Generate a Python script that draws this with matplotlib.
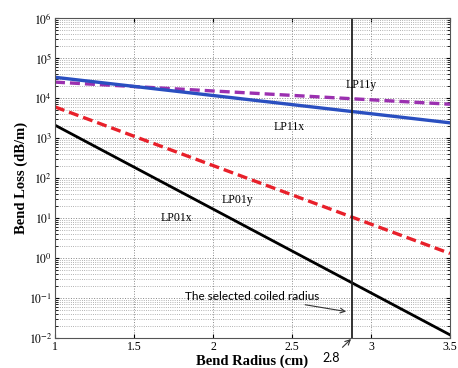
import matplotlib
matplotlib.use("Agg")
import matplotlib.pyplot as plt

plt.rcParams['font.family'] = ['Liberation Serif', 'DejaVu Serif']
plt.rcParams['mathtext.fontset'] = 'stix'

# bend radius endpoints (cm) and bend loss (dB/m)
radius = [1.0, 3.5]
lp01x = [2100, 0.012]
lp01y = [6000, 1.3]
lp11x = [33000, 2400]
lp11y = [25000, 7000]

coil_r = 2.88
xticks = [1, 1.5, 2, 2.5, 3, 3.5]
xticklabels = ['1', '1.5', '2', '2.5', '3', '3.5']
decades = list(range(-2, 7))

fig = plt.figure(figsize=(4.58, 3.68), dpi=100)
ax = fig.add_axes([0.120, 0.0815, 0.8625, 0.8695])

ax.plot(radius, lp11y, color='#9b30b0', lw=2.4, ls=(0, (3, 1.5)))
ax.plot(radius, lp11x, color='#2a4fc0', lw=2.4)
ax.plot(radius, lp01y, color='#e8202a', lw=2.4, ls=(0, (3, 1.5)))
ax.plot(radius, lp01x, color='black', lw=2.0)
ax.axvline(coil_r, color='#222222', lw=1.3)

ax.set_yscale('log')
ax.set_xlim(1, 3.5)
ax.set_ylim(1e-2, 1e6)
ax.set_xticks(xticks)
ax.set_xticklabels(xticklabels)
ax.set_yticks([10.0**k for k in decades])
ax.set_yticklabels(['$10^{%d}$' % k for k in decades])
ax.set_yticks([m * 10.0**k for k in decades[:-1] for m in range(2, 10)], minor=True)
ax.tick_params(direction='in', which='both', top=True, right=True, labelsize=8.5, pad=2)
ax.tick_params(which='minor', length=2, labelleft=False, labelbottom=False)
ax.tick_params(which='major', length=3)

ax.grid(True, which='major', axis='both', ls=':', color='#888888', lw=0.7)
ax.grid(True, which='minor', axis='y', ls=':', color='#999999', lw=0.6)
for s in ax.spines.values():
    s.set_color('#555555')

ax.set_xlabel('Bend Radius (cm)', fontsize=10.5, fontweight='bold', va='center')
ax.xaxis.set_label_coords(0.5, -0.072)
ax.set_ylabel('Bend Loss (dB/m)', fontsize=10.5, fontweight='bold', va='center')
ax.yaxis.set_label_coords(-0.085, 0.5)

ax.text(2.94, 10**4.33, 'LP11y', fontsize=8.5, ha='center', va='center')
ax.text(2.48, 10**3.27, 'LP11x', fontsize=8.5, ha='center', va='center')
ax.text(2.155, 10**1.45, 'LP01y', fontsize=8.5, ha='center', va='center')
ax.text(1.77, 10**1.0, 'LP01x', fontsize=8.5, ha='center', va='center')

ax.annotate('The selected coiled radius', xy=(2.86, 10**-1.35), xytext=(2.675, 10**-0.95),
            fontsize=8.5, family=['Lato', 'DejaVu Sans'], ha='right', va='center',
            arrowprops=dict(arrowstyle='->', color='#333333', lw=0.8))
ax.annotate('2.8', xy=(coil_r, 1e-2), xytext=(2.75, 10**-2.5),
            fontsize=9, family=['Lato', 'DejaVu Sans'], ha='center', va='center',
            annotation_clip=False,
            arrowprops=dict(arrowstyle='->', color='#333333', lw=0.8,
                            shrinkA=2, shrinkB=1))

fig.savefig('out.png', dpi=100)
